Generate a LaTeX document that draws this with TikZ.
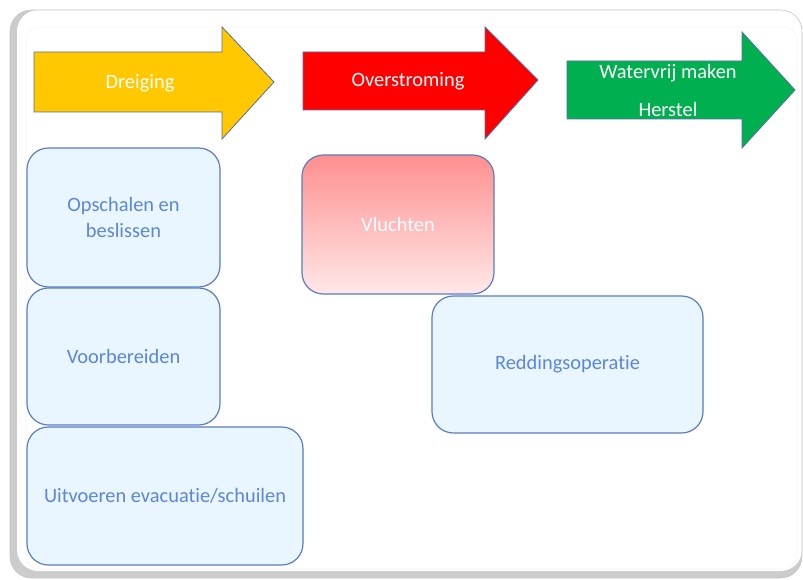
\documentclass[tikz,border=0pt]{standalone}
\usepackage{fontspec}
\setmainfont[Ligatures=NoCommon]{Carlito}
\definecolor{geel}{RGB}{255,200,0}
\definecolor{rood}{RGB}{255,0,0}
\definecolor{groen}{RGB}{0,176,80}
\definecolor{pijlrand}{RGB}{85,110,160}
\definecolor{stapvul}{RGB}{234,246,255}
\definecolor{staprand}{RGB}{90,125,195}
\definecolor{staptekst}{RGB}{90,135,217}
\definecolor{vluchtboven}{RGB}{255,143,143}
\definecolor{vluchtonder}{RGB}{255,232,232}
\tikzset{
  stap/.style={draw=staprand, fill=stapvul, text=staptekst, rounded corners=16pt,
    line width=0.9pt, align=center, font=\fontsize{15.3}{19.5}\selectfont},
  pijl/.style={draw=pijlrand, line width=0.6pt},
  pijltekst/.style={text=white, align=center, font=\fontsize{15.3}{19.5}\selectfont}
}
\begin{document}
\begin{tikzpicture}[x=0.75pt,y=-0.75pt]
  \useasboundingbox (0,0) rectangle (803,580);
  \fill[gray!40, rounded corners=16pt] (10,10) rectangle (802,578);
  \fill[white, rounded corners=16pt] (17,10) rectangle (802,571);
  \draw[gray!45, rounded corners=16pt] (10,10) rectangle (802,578);
  \draw[gray!8, fill=white, rounded corners=10pt] (26,27) rectangle (797,569);

  \draw[pijl, fill=geel] (34,52) -- (222,52) -- (222,27) -- (274,82) -- (222,139) -- (222,112) -- (34,112) -- cycle;
  \node[pijltekst] (dreiging) at (140,83) {Dreiging};
  \draw[pijl, fill=rood] (303,52) -- (485,52) -- (485,27) -- (538,80) -- (485,139) -- (485,110) -- (303,110) -- cycle;
  \node[pijltekst] (overstroming) at (408,81) {Overstroming};
  \draw[pijl, fill=groen] (567,61) -- (742,61) -- (742,32) -- (795,90) -- (742,148) -- (742,119) -- (567,119) -- cycle;
  \node[pijltekst] (herstel) at (668,90) {Watervrij maken\\[9pt]Herstel};

  \node[stap, minimum width=144.75pt, minimum height=104.25pt] (opschalen) at (123.5,217.5) {Opschalen en\\beslissen};
  \node[stap, minimum width=144.75pt, minimum height=102.75pt] (voorbereiden) at (123.5,356.5) {Voorbereiden};
  \node[stap, minimum width=207pt, minimum height=103.5pt] (uitvoeren) at (165,496) {Uitvoeren evacuatie/schuilen};
  \node[stap, top color=vluchtboven, bottom color=vluchtonder, text=white,
    minimum width=144pt, minimum height=104.25pt] (vluchten) at (398,224.5) {Vluchten};
  \node[stap, minimum width=203.25pt, minimum height=102.75pt] (redding) at (567.5,364.5) {Reddingsoperatie};
\end{tikzpicture}
\end{document}
